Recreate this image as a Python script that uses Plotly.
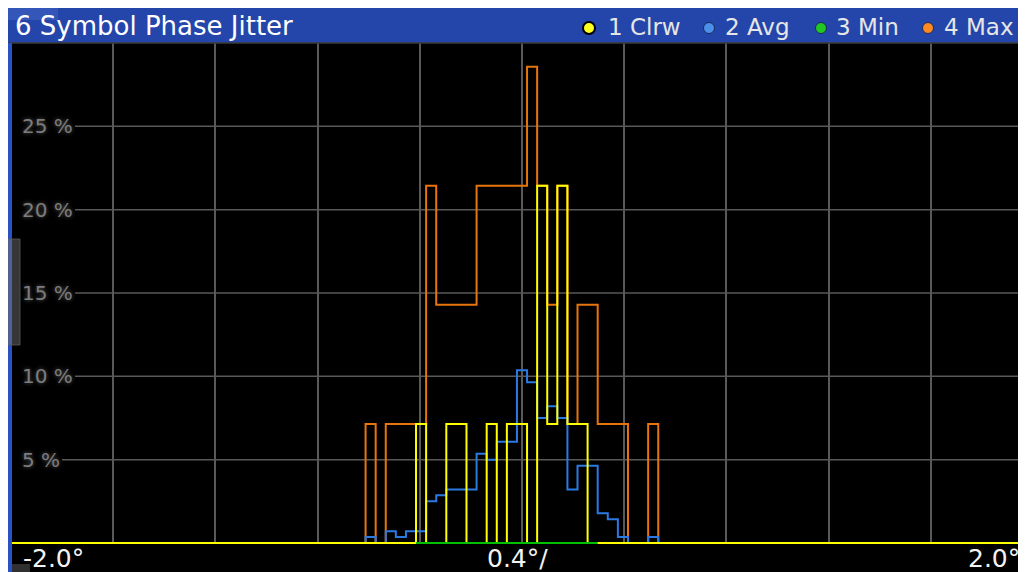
import plotly.graph_objects as go

# ---------------- data ----------------
title_text = "6 Symbol Phase Jitter"
legend_names = ["1 Clrw", "2 Avg", "3 Min", "4 Max"]
bin_index = list(range(-15, 14))          # bins centred on n * bin_width
bin_width = 0.0395                          # degrees

clrw_vals = [0, 0, 0, 0, 0, 7.14, 0, 0, 7.14, 7.14, 0, 0, 7.14, 0, 7.14, 7.14,
             0, 21.43, 7.14, 21.43, 7.14, 7.14, 0, 0, 0, 0, 0, 0, 0]
avg_vals = [0.36, 0, 0.71, 0.36, 0.71, 0.71, 2.50, 2.86, 3.21, 3.21, 3.21, 5.36,
            5.00, 6.07, 6.07, 10.36, 9.64, 7.50, 8.21, 7.50, 3.21, 4.64, 4.64,
            1.79, 1.43, 0.36, 0, 0, 0.36]
min_vals = [None] * 5 + [0] * 18 + [None] * 6
max_vals = [7.14, 0, 7.14, 7.14, 7.14, 7.14, 21.43, 14.29, 14.29, 14.29, 14.29,
            21.43, 21.43, 21.43, 21.43, 21.43, 28.57, 21.43, 14.29, 21.43, 7.14,
            14.29, 14.29, 7.14, 7.14, 7.14, 0, 0, 7.14]

y_tick_vals = [5, 10, 15, 20, 25]
y_tick_text = ["5 %", "10 %", "15 %", "20 %", "25 %"]
x_labels = ["-2.0°", "0.4°/", "2.0°"]
x_min, x_max = -2.0, 2.0
y_max = 30

# ---------------- layout geometry (figure is drawn 8 px into the page) ----------------
W, H = 1026, 572
OFF = 8                       # page body margin
L, R, T, B = 3, 1025, 35, 536  # plot area in figure pixels


def pxx(p):
    """screen x pixel -> paper x"""
    return (p - OFF - L) / (R - L)


def pxy(p):
    """screen y pixel -> paper y"""
    return (B - (p - OFF)) / (B - T)


edges = [(n - 0.5) * bin_width for n in bin_index] + [(bin_index[-1] + 0.5) * bin_width]


def step_xy(vals):
    xs = [x_min] + edges + [x_max]
    ys = [0] + list(vals) + [0, 0]
    return xs, ys


COL_Y = "#ffff00"
COL_B = "#2a7ae2"
COL_G = "#00c000"
COL_O = "#e8740c"

fig = go.Figure()

xo, yo = step_xy(max_vals)
fig.add_trace(go.Scatter(x=xo, y=yo, mode="lines", line=dict(color=COL_O, width=2, shape="hv"),
                         name=legend_names[3], hoverinfo="skip"))
xb, yb = step_xy(avg_vals)
fig.add_trace(go.Scatter(x=xb, y=yb, mode="lines", line=dict(color=COL_B, width=2, shape="hv"),
                         name=legend_names[1], hoverinfo="skip"))
xy_, yy_ = step_xy(clrw_vals)
fig.add_trace(go.Scatter(x=xy_, y=yy_, mode="lines", line=dict(color=COL_Y, width=2, shape="hv"),
                         name=legend_names[0], hoverinfo="skip"))
idx = [i for i, v in enumerate(min_vals) if v is not None]
gx = [edges[idx[0]], edges[idx[-1] + 1]]
gy = [min_vals[idx[0]], min_vals[idx[-1]]]
fig.add_trace(go.Scatter(x=gx, y=gy, mode="lines", line=dict(color=COL_G, width=2),
                         name=legend_names[2], hoverinfo="skip"))

shapes = []
# horizontal gridlines (start after the labels)
for v, t in zip(y_tick_vals, y_tick_text):
    x0p = 62 if len(t) <= 3 else 75
    shapes.append(dict(type="line", xref="paper", yref="y", x0=pxx(x0p), x1=1, y0=v, y1=v,
                       line=dict(color="#595959", width=1.5), layer="below"))
# title bar
shapes.append(dict(type="rect", xref="paper", yref="paper", x0=pxx(8), x1=pxx(1040),
                   y0=pxy(43), y1=pxy(8), fillcolor="#2446ab", line_width=0, layer="above"))
shapes.append(dict(type="rect", xref="paper", yref="paper", x0=pxx(8), x1=pxx(58),
                   y0=pxy(20), y1=pxy(8), fillcolor="#3356b8", line_width=0, layer="above"))
shapes.append(dict(type="line", xref="paper", yref="paper", x0=pxx(8), x1=pxx(1040),
                   y0=pxy(43), y1=pxy(43), line=dict(color="#3a3a3a", width=1.5), layer="above"))
# left blue strip
shapes.append(dict(type="rect", xref="paper", yref="paper", x0=pxx(8), x1=pxx(12),
                   y0=pxy(590), y1=pxy(43), fillcolor="#2a52c4", line_width=0, layer="above"))
# scroll handle
shapes.append(dict(type="rect", xref="paper", yref="paper", x0=pxx(8), x1=pxx(20),
                   y0=pxy(345), y1=pxy(239), fillcolor="rgba(120,120,120,0.45)",
                   line=dict(color="rgba(90,90,90,0.8)", width=1), layer="above"))
# bottom-left grey tab
shapes.append(dict(type="rect", xref="paper", yref="paper", x0=pxx(12), x1=pxx(30),
                   y0=pxy(590), y1=pxy(564), fillcolor="#303030", line_width=0, layer="above"))

# legend circles
leg_cx = [589, 709, 821, 928]
leg_cols = ["#ffff20", "#4a90ea", "#22c822", "#ff8a22"]
leg_text_x = [606, 723, 834, 942]
for i, (cx, c) in enumerate(zip(leg_cx, leg_cols)):
    r = 6 if i == 0 else 5.5
    shapes.append(dict(type="circle", xref="paper", yref="paper", xsizemode="pixel", ysizemode="pixel",
                       xanchor=pxx(cx), yanchor=pxy(28), x0=-r, x1=r, y0=-r, y1=r,
                       fillcolor=c, line=dict(color="black" if i == 0 else "#1a2a60", width=2 if i == 0 else 1),
                       layer="above"))

annotations = []
annotations.append(dict(text=title_text, xref="paper", yref="paper", x=pxx(13), y=pxy(26),
                        xanchor="left", yanchor="middle", showarrow=False,
                        font=dict(family="DejaVu Sans", size=26, color="white")))
for tx, name in zip(leg_text_x, legend_names):
    annotations.append(dict(text=name, xref="paper", yref="paper", x=pxx(tx), y=pxy(27),
                            xanchor="left", yanchor="middle", showarrow=False,
                            font=dict(family="DejaVu Sans", size=23, color="#e6e6e6")))
for v, t in zip(y_tick_vals, y_tick_text):
    annotations.append(dict(text=t, xref="paper", yref="y", x=pxx(20), y=v,
                            xanchor="left", yanchor="middle", showarrow=False,
                            font=dict(family="DejaVu Sans", size=20, color="#7c7c7c",
                                      shadow="0px 0px 4px #5a5a5a")))
# x labels
xl_font = dict(family="DejaVu Sans", size=25, color="#f2f2f2")
annotations.append(dict(text=x_labels[0], xref="paper", yref="paper", x=pxx(21), y=pxy(558),
                        xanchor="left", yanchor="middle", showarrow=False, font=xl_font))
annotations.append(dict(text=x_labels[1], xref="x", yref="paper", x=0, y=pxy(558),
                        xanchor="center", yanchor="middle", showarrow=False, xshift=-5,
                        font=xl_font))
annotations.append(dict(text=x_labels[2], xref="paper", yref="paper", x=pxx(1022), y=pxy(558),
                        xanchor="right", yanchor="middle", showarrow=False, font=xl_font))

fig.update_layout(
    width=W, height=H, autosize=False,
    margin=dict(l=L, r=W - R, t=T, b=H - B, pad=0),
    paper_bgcolor="black", plot_bgcolor="black",
    showlegend=False,
    shapes=shapes, annotations=annotations,
    xaxis=dict(range=[x_min, x_max], tick0=x_min, dtick=0.4, showgrid=True, gridcolor="#595959",
               gridwidth=1.5, zeroline=False, showticklabels=False, ticks="", showline=False,
               fixedrange=True),
    yaxis=dict(range=[-0.06, y_max], showgrid=False, zeroline=False, showticklabels=False,
               ticks="", showline=False, fixedrange=True),
)

fig.write_html("out.html")
